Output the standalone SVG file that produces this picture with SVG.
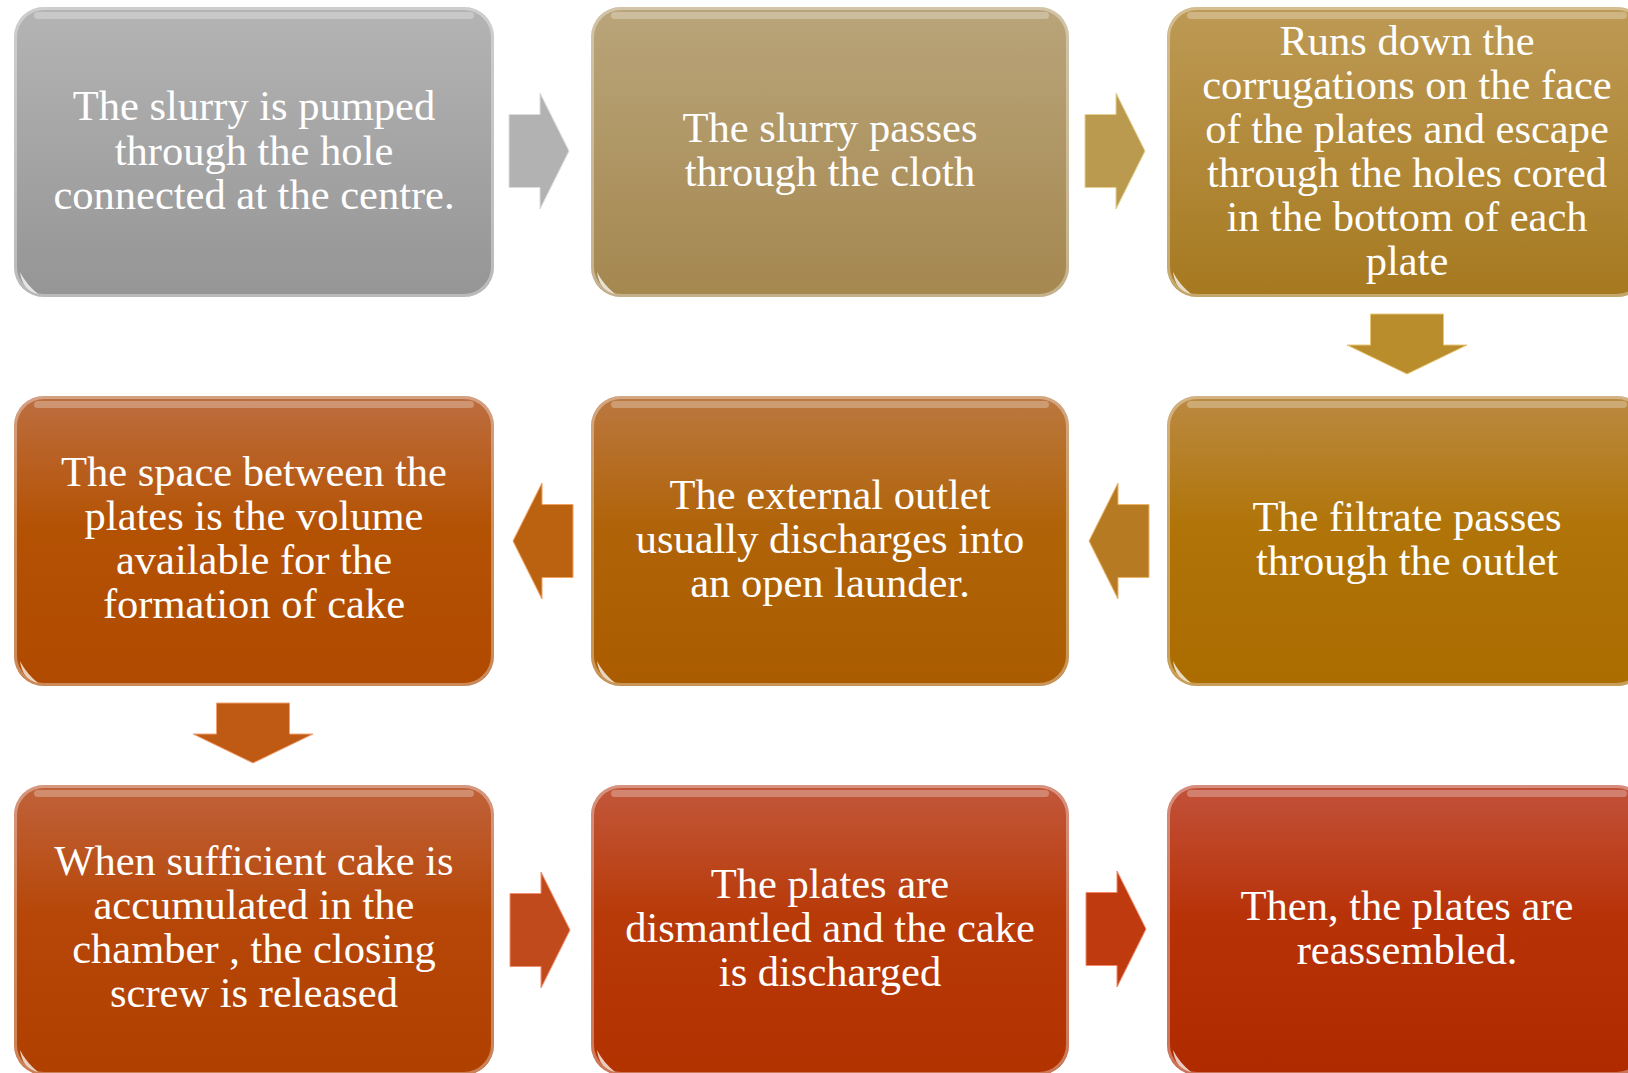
<svg xmlns="http://www.w3.org/2000/svg" width="1628" height="1073" viewBox="0 0 1628 1073">
<style>
.t{font-family:"Liberation Serif","Times New Roman",serif;font-size:42.5px;fill:#ffffff;text-anchor:middle}
.hl{fill:#ffffff;opacity:0.28}
.edge{fill:none;stroke:#ffffff;stroke-opacity:0.35;stroke-width:3}
.glint{fill:#ffffff;opacity:0.75}
</style>
<defs>
<linearGradient id="g1" x1="0" y1="0" x2="0" y2="1"><stop offset="0" stop-color="#b4b4b4"/><stop offset="1" stop-color="#959595"/></linearGradient>
<linearGradient id="g2" x1="0" y1="0" x2="0" y2="1"><stop offset="0" stop-color="#b9a57a"/><stop offset="1" stop-color="#a5874f"/></linearGradient>
<linearGradient id="g3" x1="0" y1="0" x2="0" y2="1"><stop offset="0" stop-color="#bd9a55"/><stop offset="1" stop-color="#a6791f"/></linearGradient>
<linearGradient id="g4" x1="0" y1="0" x2="0" y2="1"><stop offset="0" stop-color="#bd6e40"/><stop offset="0.45" stop-color="#b45204"/><stop offset="1" stop-color="#b04a00"/></linearGradient>
<linearGradient id="g5" x1="0" y1="0" x2="0" y2="1"><stop offset="0" stop-color="#bb7840"/><stop offset="0.45" stop-color="#b06308"/><stop offset="1" stop-color="#ab5c00"/></linearGradient>
<linearGradient id="g6" x1="0" y1="0" x2="0" y2="1"><stop offset="0" stop-color="#bb8a42"/><stop offset="0.45" stop-color="#b07408"/><stop offset="1" stop-color="#ab6c00"/></linearGradient>
<linearGradient id="g7" x1="0" y1="0" x2="0" y2="1"><stop offset="0" stop-color="#c0623a"/><stop offset="0.45" stop-color="#b64708"/><stop offset="1" stop-color="#b04000"/></linearGradient>
<linearGradient id="g8" x1="0" y1="0" x2="0" y2="1"><stop offset="0" stop-color="#c2583c"/><stop offset="0.45" stop-color="#b83a08"/><stop offset="1" stop-color="#b23200"/></linearGradient>
<linearGradient id="g9" x1="0" y1="0" x2="0" y2="1"><stop offset="0" stop-color="#c2523a"/><stop offset="0.45" stop-color="#b83208"/><stop offset="1" stop-color="#b02a00"/></linearGradient>
<path id="ar" d="M0,-36.5 H31 V-58 L60,0 L31,58 V36.5 H0 Z"/>
<path id="al" d="M0,0 L29,-58 V-36.5 H60 V36.5 H29 V58 Z"/>
<path id="ad" d="M-36.5,0 H36.5 V31 H60 L0,60 L-60,31 H-36.5 Z"/>
</defs>

<g id="connectors">
<use href="#ar" x="509" y="151" fill="#b2b2b2" stroke="#dcdcdc" stroke-width="1"/>
<use href="#ar" x="1085" y="151" fill="#b99a4e" stroke="#e6cf90" stroke-width="1"/>
<use href="#ad" x="1407" y="314" fill="#b98c2c" stroke="#e8c778" stroke-width="1"/>
<use href="#al" x="1089" y="541" fill="#b57a22" stroke="#eab46a" stroke-width="1"/>
<use href="#al" x="513" y="541" fill="#bb6210" stroke="#f0a060" stroke-width="1"/>
<use href="#ad" x="253" y="703" fill="#bf5a14" stroke="#f2a070" stroke-width="1"/>
<use href="#ar" x="510" y="930" fill="#c04a1c" stroke="#f09070" stroke-width="1"/>
<use href="#ar" x="1086" y="929" fill="#c03a10" stroke="#f08a6a" stroke-width="1"/>
</g>

<g id="n1">
<rect x="14" y="7" width="480" height="290" rx="30" fill="url(#g1)"/>
<rect x="34" y="12" width="440" height="7" rx="3.5" class="hl"/>
<rect x="15.5" y="8.5" width="477" height="287" rx="29" class="edge"/>
<path class="glint" d="M20,272 Q22,290 38,294 Q26,284 20,272 Z"/>
<text class="t" x="254" y="120">The slurry is pumped</text>
<text class="t" x="254" y="164.5">through the hole</text>
<text class="t" x="254" y="209">connected at the centre.</text>
</g>

<g id="n2">
<rect x="591" y="7" width="478" height="290" rx="30" fill="url(#g2)"/>
<rect x="611" y="12" width="438" height="7" rx="3.5" class="hl"/>
<rect x="592.5" y="8.5" width="475" height="287" rx="29" class="edge"/>
<path class="glint" d="M597,272 Q599,290 615,294 Q603,284 597,272 Z"/>
<text class="t" x="830" y="142">The slurry passes</text>
<text class="t" x="830" y="186">through the cloth</text>
</g>

<g id="n3">
<rect x="1167" y="7" width="480" height="290" rx="30" fill="url(#g3)"/>
<rect x="1187" y="12" width="440" height="7" rx="3.5" class="hl"/>
<rect x="1168.5" y="8.5" width="477" height="287" rx="29" class="edge"/>
<path class="glint" d="M1173,272 Q1175,290 1191,294 Q1179,284 1173,272 Z"/>
<text class="t" x="1407" y="55">Runs down the</text>
<text class="t" x="1407" y="99">corrugations on the face</text>
<text class="t" x="1407" y="143">of the plates and escape</text>
<text class="t" x="1407" y="187">through the holes cored</text>
<text class="t" x="1407" y="231">in the bottom of each</text>
<text class="t" x="1407" y="275">plate</text>
</g>

<g id="n4">
<rect x="14" y="396" width="480" height="290" rx="30" fill="url(#g4)"/>
<rect x="34" y="401" width="440" height="7" rx="3.5" class="hl"/>
<rect x="15.5" y="397.5" width="477" height="287" rx="29" class="edge"/>
<path class="glint" d="M20,661 Q22,679 38,683 Q26,673 20,661 Z"/>
<text class="t" x="254" y="486">The space between the</text>
<text class="t" x="254" y="530">plates is the volume</text>
<text class="t" x="254" y="574">available for the</text>
<text class="t" x="254" y="618">formation of cake</text>
</g>

<g id="n5">
<rect x="591" y="396" width="478" height="290" rx="30" fill="url(#g5)"/>
<rect x="611" y="401" width="438" height="7" rx="3.5" class="hl"/>
<rect x="592.5" y="397.5" width="475" height="287" rx="29" class="edge"/>
<path class="glint" d="M597,661 Q599,679 615,683 Q603,673 597,661 Z"/>
<text class="t" x="830" y="509">The external outlet</text>
<text class="t" x="830" y="553">usually discharges into</text>
<text class="t" x="830" y="597">an open launder.</text>
</g>

<g id="n6">
<rect x="1167" y="396" width="480" height="290" rx="30" fill="url(#g6)"/>
<rect x="1187" y="401" width="440" height="7" rx="3.5" class="hl"/>
<rect x="1168.5" y="397.5" width="477" height="287" rx="29" class="edge"/>
<path class="glint" d="M1173,661 Q1175,679 1191,683 Q1179,673 1173,661 Z"/>
<text class="t" x="1407" y="531">The filtrate passes</text>
<text class="t" x="1407" y="575">through the outlet</text>
</g>

<g id="n7">
<rect x="14" y="785" width="480" height="290" rx="30" fill="url(#g7)"/>
<rect x="34" y="790" width="440" height="7" rx="3.5" class="hl"/>
<rect x="15.5" y="786.5" width="477" height="287" rx="29" class="edge"/>
<path class="glint" d="M20,1050 Q22,1068 38,1072 Q26,1062 20,1050 Z"/>
<text class="t" x="254" y="875">When sufficient cake is</text>
<text class="t" x="254" y="919">accumulated in the</text>
<text class="t" x="254" y="963">chamber , the closing</text>
<text class="t" x="254" y="1007">screw is released</text>
</g>

<g id="n8">
<rect x="591" y="785" width="478" height="290" rx="30" fill="url(#g8)"/>
<rect x="611" y="790" width="438" height="7" rx="3.5" class="hl"/>
<rect x="592.5" y="786.5" width="475" height="287" rx="29" class="edge"/>
<path class="glint" d="M597,1050 Q599,1068 615,1072 Q603,1062 597,1050 Z"/>
<text class="t" x="830" y="898">The plates are</text>
<text class="t" x="830" y="942">dismantled and the cake</text>
<text class="t" x="830" y="986">is discharged</text>
</g>

<g id="n9">
<rect x="1167" y="785" width="480" height="290" rx="30" fill="url(#g9)"/>
<rect x="1187" y="790" width="440" height="7" rx="3.5" class="hl"/>
<rect x="1168.5" y="786.5" width="477" height="287" rx="29" class="edge"/>
<path class="glint" d="M1173,1050 Q1175,1068 1191,1072 Q1179,1062 1173,1050 Z"/>
<text class="t" x="1407" y="920">Then, the plates are</text>
<text class="t" x="1407" y="964">reassembled.</text>
</g>
</svg>
